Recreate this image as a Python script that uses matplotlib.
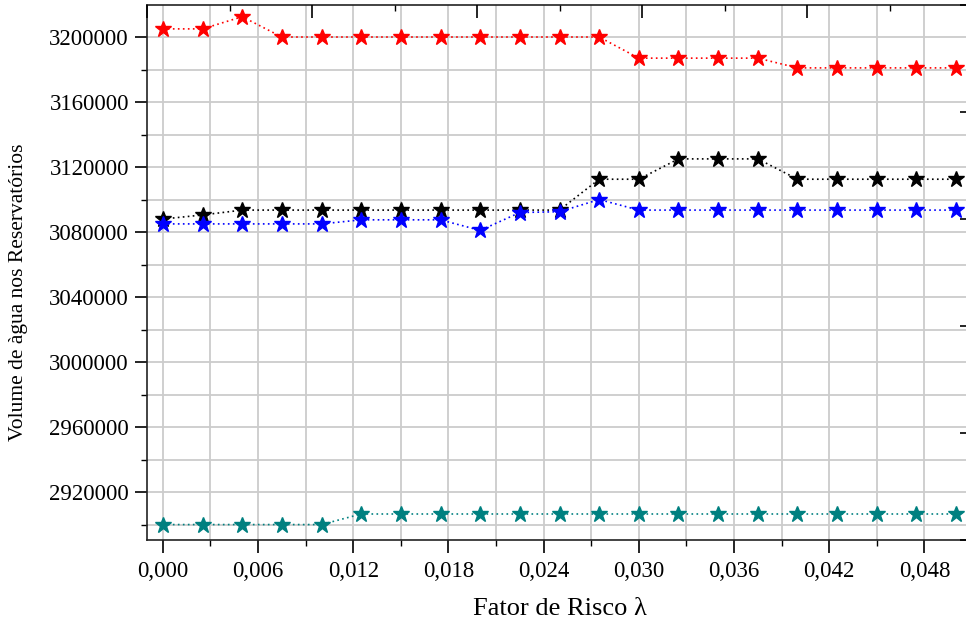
import matplotlib
matplotlib.use("Agg")
import matplotlib.pyplot as plt
from matplotlib.ticker import MultipleLocator, FuncFormatter

plt.rcParams['font.family'] = ['Liberation Serif', 'DejaVu Serif']

# ---- data ----
lam = [i * 0.0025 for i in range(21)]
red = [3205000, 3205000, 3212500, 3200000, 3200000, 3200000, 3200000, 3200000,
       3200000, 3200000, 3200000, 3200000, 3187000, 3187000, 3187000, 3187000,
       3181000, 3181000, 3181000, 3181000, 3181000]
black = [3088000, 3090500, 3093500, 3093500, 3093500, 3093500, 3093500, 3093500,
         3093500, 3093500, 3093500, 3112500, 3112500, 3125000, 3125000, 3125000,
         3112500, 3112500, 3112500, 3112500, 3112500]
blue = [3085000, 3085000, 3085000, 3085000, 3085000, 3087500, 3087500, 3087500,
        3081000, 3092000, 3092500, 3100000, 3093500, 3093500, 3093500, 3093500,
        3093500, 3093500, 3093500, 3093500, 3093500]
teal = [2900000, 2900000, 2900000, 2900000, 2900000, 2906500, 2906500, 2906500,
        2906500, 2906500, 2906500, 2906500, 2906500, 2906500, 2906500, 2906500,
        2906500, 2906500, 2906500, 2906500, 2906500]

xlabel = "Fator de Risco λ"
ylabel = "Volume de àgua nos Reservatórios"

W, H = 966, 623
fig = plt.figure(figsize=(W / 100, H / 100), dpi=100)
L, R, T, B = 147, 972, 5, 540
rect = [L / W, 1 - B / H, (R - L) / W, (B - T) / H]
ax = fig.add_axes(rect)

ls = (0, (1, 2))
ms = 12
for ys, c in [(red, '#ff0000'), (black, '#000000'), (blue, '#0000ff'), (teal, '#008080')]:
    ax.plot(lam, ys, linestyle=ls, lw=1.2, color=c, marker='*', ms=ms,
            markerfacecolor=c, markeredgecolor=c, zorder=3)

ax.set_xlim(-0.001, 0.051)
ax.set_ylim(2890500, 3219700)

ax.xaxis.set_major_locator(MultipleLocator(0.006))
ax.xaxis.set_minor_locator(MultipleLocator(0.003))
ax.yaxis.set_major_locator(MultipleLocator(40000))
ax.yaxis.set_minor_locator(MultipleLocator(20000))
ax.xaxis.set_major_formatter(FuncFormatter(lambda v, p: f"{v:.3f}".replace('.', ',')))
ax.yaxis.set_major_formatter(FuncFormatter(lambda v, p: f"{int(round(v))}"))

ax.grid(True, which='both', color='#cccccc', lw=1.3, zorder=0)
ax.set_axisbelow(True)

ax.tick_params(which='major', direction='out', length=9, width=1.2, labelsize=16.5,
               top=False, right=False, pad=4)
ax.tick_params(which='minor', direction='out', length=4.5, width=1.0,
               top=False, right=False)
ax.tick_params(axis='x', which='major', pad=6)
for s in ax.spines.values():
    s.set_linewidth(1.2)
    s.set_color('#222222')

# secondary frame ticks on top / right (inward)
ax2 = fig.add_axes(rect, frameon=False)
ax2.set_xlim(0, 5)
ax2.set_ylim(0, 5)
ax2.xaxis.set_major_locator(MultipleLocator(1))
ax2.xaxis.set_minor_locator(MultipleLocator(0.5))
ax2.yaxis.set_major_locator(MultipleLocator(1))
ax2.yaxis.set_minor_locator(MultipleLocator(0.5))
ax2.tick_params(which='major', direction='in', length=9, width=1.2,
                top=True, right=True, bottom=False, left=False,
                labeltop=False, labelright=False, labelbottom=False, labelleft=False)
ax2.tick_params(which='minor', direction='in', length=4.5, width=1.0,
                top=True, right=True, bottom=False, left=False)
ax2.patch.set_visible(False)

fig.text(560 / W, 1 - 615 / H, xlabel, ha='center', va='baseline', fontsize=19)
fig.text(19 / W, 1 - 292 / H, ylabel, ha='center', va='center', rotation=90, fontsize=15.5)

fig.savefig('out.png', dpi=100)
